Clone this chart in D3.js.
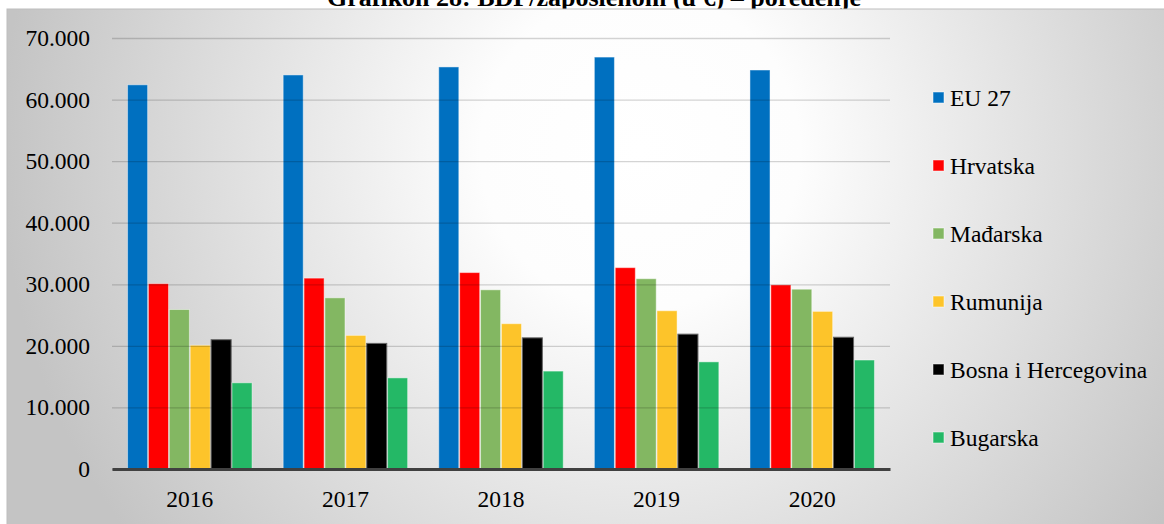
<!DOCTYPE html>
<html>
<head>
<meta charset="utf-8">
<script src="https://cdn.jsdelivr.net/npm/d3@7"></script>
<style>
  body { margin: 0; background: #fff; }
</style>
</head>
<body>
<svg id="chart" width="1164" height="524"></svg>
<script>
// BDP po zaposlenom, grouped bars per year

var years = ['2016', '2017', '2018', '2019', '2020'];
var countries = ['EU 27', 'Hrvatska', 'Mađarska', 'Rumunija', 'Bosna i Hercegovina', 'Bugarska'];
var colors = ['#0070C0', '#FF0000', '#83B762', '#FDC42A', '#000000', '#24B866'];

var eu27     = [62400, 64000, 65300, 66900, 64800];
var hrvatska = [30100, 31000, 31900, 32700, 29900];
var madjarska = [25900, 27800, 29100, 30900, 29200];
var rumunija = [20100, 21700, 23600, 25700, 25600];
var bih      = [21000, 20400, 21300, 21900, 21400];
var bugarska = [14000, 14800, 15900, 17400, 17700];

var yTicks = [0, 10000, 20000, 30000, 40000, 50000, 60000, 70000];

var series = [eu27, hrvatska, madjarska, rumunija, bih, bugarska];

var serif = '"Liberation Serif", "Times New Roman", serif';

var svg = d3.select('#chart');

// title, mostly hidden behind the chart box (as in the source)
svg.append('text')
  .attr('x', 594)
  .attr('y', 6)
  .attr('text-anchor', 'middle')
  .style('font-family', serif)
  .style('font-size', '26px')
  .style('font-weight', 'bold')
  .text('Grafikon 28: BDP/zaposlenom (u €) – poređenje');

// background gradient
var defs = svg.append('defs');
var grad = defs.append('radialGradient')
  .attr('id', 'bg')
  .attr('gradientUnits', 'userSpaceOnUse')
  .attr('cx', 640).attr('cy', 150).attr('r', 640);
grad.append('stop').attr('offset', '0%').attr('stop-color', '#ffffff');
grad.append('stop').attr('offset', '25%').attr('stop-color', '#fdfdfd');
grad.append('stop').attr('offset', '100%').attr('stop-color', '#c4c4c4');

svg.append('rect')
  .attr('x', 7).attr('y', 9)
  .attr('width', 1160).attr('height', 520)
  .attr('fill', 'url(#bg)')
  .attr('stroke', '#bdbdbd')
  .attr('stroke-width', 1);

var margin = {left: 112, right: 274, top: 38, bottom: 55};
var width = 1164 - margin.left - margin.right;
var height = 524 - margin.top - margin.bottom;

var g = svg.append('g').attr('transform', 'translate(' + margin.left + ',' + margin.top + ')');

var x = d3.scaleBand()
  .domain(years)
  .range([0, width])
  .paddingInner(0.2)
  .paddingOuter(0.1);

var x1 = d3.scaleBand()
  .domain(countries)
  .range([0, x.bandwidth()])
  .paddingInner(0.04);

var y = d3.scaleLinear()
  .domain([0, 70000])
  .range([height, 0]);

// bars
countries.forEach(function(c, i){
  g.selectAll('.bar' + i)
    .data(series[i])
    .enter().append('rect')
    .attr('class', 'bar' + i)
    .attr('x', function(d, j){ return x(years[j]) + x1(c); })
    .attr('y', function(d){ return y(d); })
    .attr('width', x1.bandwidth())
    .attr('height', function(d){ return height - y(d); })
    .attr('fill', colors[i])
    .attr('stroke', i == 4 ? '#666' : 'rgba(255,255,255,0.45)')
    .attr('stroke-width', 1);
});

// gridlines on top, semi transparent
var yAxis = d3.axisLeft(y)
  .tickValues(yTicks)
  .tickSize(-width)
  .tickPadding(22)
  .tickFormat(function(d){ return d3.format(',')(d).replace(/,/g, '.'); });

g.append('g')
  .attr('class', 'y axis')
  .call(yAxis)
  .call(function(s){
    s.attr('font-family', serif);
    s.select('.domain').remove();
    s.selectAll('.tick line').attr('stroke', 'rgba(0,0,0,0.17)').attr('stroke-width', 1.3);
    s.selectAll('.tick text').style('font-family', serif).style('font-size', '23.5px').attr('fill', '#000');
  });

var xAxis = d3.axisBottom(x).tickSize(0).tickPadding(21);
g.append('g')
  .attr('class', 'x axis')
  .attr('transform', 'translate(0,' + height + ')')
  .call(xAxis)
  .call(function(s){
    s.attr('font-family', serif);
    s.select('.domain').attr('stroke', '#404040').attr('stroke-width', 3);
    s.selectAll('.tick text').style('font-family', serif).style('font-size', '23.5px').attr('fill', '#000');
  });

// legend
var legend = svg.append('g').attr('transform', 'translate(933,98)');
var item = legend.selectAll('.item')
  .data(countries)
  .enter().append('g')
  .attr('class', 'item')
  .attr('transform', function(d, i){ return 'translate(0,' + (i * 68) + ')'; });
item.append('rect')
  .attr('x', 0).attr('y', -6)
  .attr('width', 11).attr('height', 11)
  .attr('fill', function(d, i){ return colors[i]; })
  .attr('stroke', 'rgba(255,255,255,0.5)');
item.append('text')
  .attr('x', 17).attr('y', 8)
  .style('font-family', serif)
  .style('font-size', '23.5px')
  .text(function(d){ return d; });
</script>
</body>
</html>
